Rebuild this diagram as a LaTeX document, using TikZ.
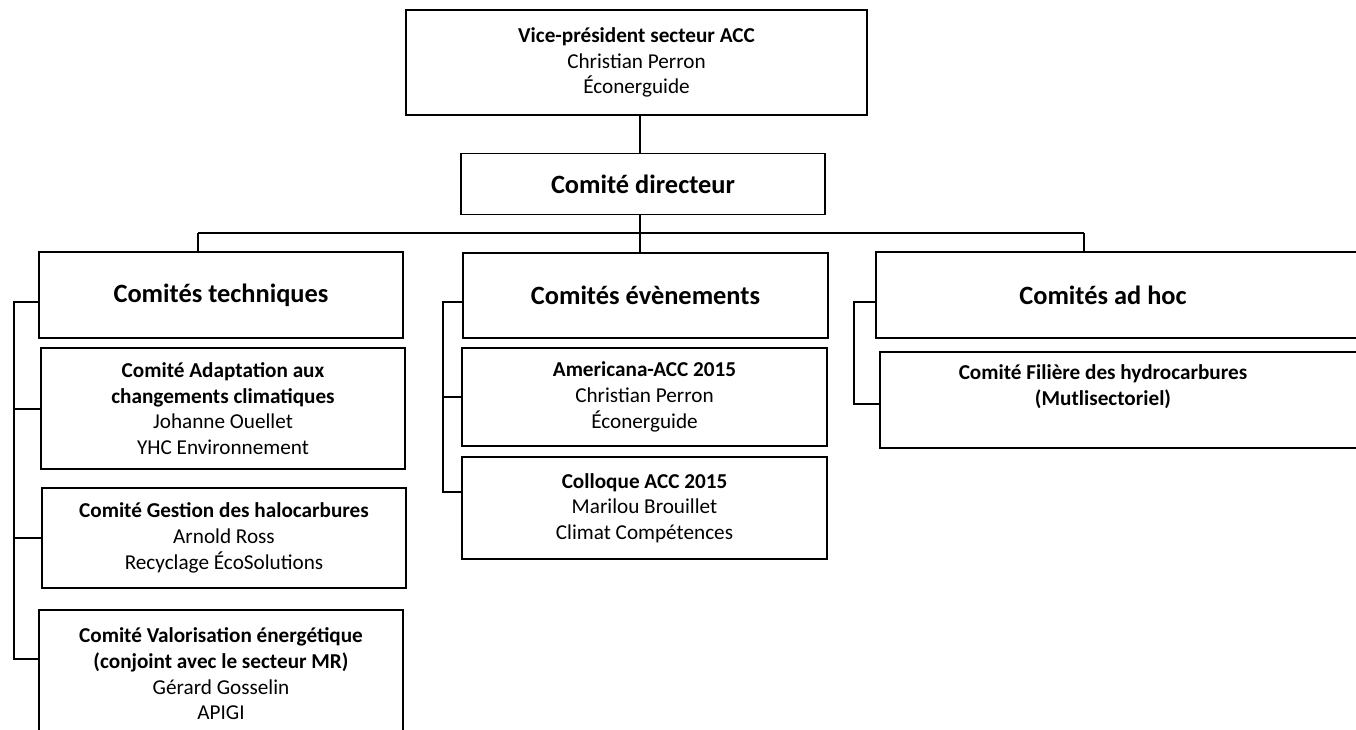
\documentclass[tikz,border=0pt]{standalone}
\usepackage{fontspec}
\setmainfont{Carlito}
\usepackage{tikz}
\usetikzlibrary{arrows.meta}
\newcommand{\boxfont}{\fontsize{15.9}{19.3}\selectfont}
\newcommand{\headfont}{\fontsize{19.8}{24}\selectfont\bfseries}

\begin{document}
\begin{tikzpicture}[x=0.75pt,y=-0.75pt]
\useasboundingbox (0,0) rectangle (1356,729);
\clip (0,0) rectangle (1356,729);
\begin{scope}[every node/.style={draw,line width=1.4pt,align=center,font=\boxfont,inner sep=0pt}]
	\node (vp) at (636.5,62.5) [minimum width=345.75pt,minimum height=78.75pt] {\textbf{Vice-président secteur ACC}\\Christian Perron\\Éconerguide};
    \node (dir) at (643,184) [minimum width=273pt,minimum height=45.75pt,font=\headfont] {Comité directeur};

    % colonne de gauche
    \node (tech) at (221,295) [minimum width=273pt,minimum height=64.5pt,font=\headfont] {Comités techniques};
    \node (adapt) at (223,408.5) [minimum width=273pt,minimum height=90.75pt] {\textbf{Comité Adaptation aux}\\\textbf{changements climatiques}\\Johanne Ouellet\\YHC Environnement};
    \node (gest) at (224,538) [minimum width=273pt,minimum height=75pt] {\textbf{Comité Gestion des halocarbures}\\Arnold Ross\\Recyclage ÉcoSolutions};
    \node (valor) at (221,674) [minimum width=273pt,minimum height=96pt] {\textbf{Comité Valorisation énergétique}\\\textbf{(conjoint avec le secteur MR)}\\Gérard Gosselin\\APIGI};

    % colonne du milieu
    \node (evt) at (645.5,295.5) [minimum width=273.75pt,minimum height=63.75pt,font=\headfont] {Comités évènements};
    \node (amer) at (644.5,397) [minimum width=273.75pt,minimum height=73.5pt] {\textbf{Americana-ACC 2015}\\Christian Perron\\Éconerguide};
    \node (coll) at (644.5,508) [minimum width=273.75pt,minimum height=76.5pt] {\textbf{Colloque ACC 2015}\\Marilou Brouillet\\Climat Compétences};

    % colonne de droite
    \node (adhoc) at (1128,295) [minimum width=378pt,minimum height=64.5pt,font=\headfont] {Comités ad hoc\hspace*{37.5pt}};
    \node (filiere) at (1130,400) [minimum width=375pt,minimum height=72pt] {\begin{tabular}{@{}c@{}}\textbf{Comité Filière des hydrocarbures}\\\textbf{(Mutlisectoriel)}\\\strut\end{tabular}\hspace*{40.5pt}};
\end{scope}

\begin{scope}[line width=1.5pt]
    \coordinate (bus) at (640,233);
    \coordinate (busL) at (198,233);
    \coordinate (busR) at (1084,233);
    \draw (vp.south -| bus) -- (dir.north -| bus);
    \draw (dir.south -| bus) -- (evt.north -| bus);
    \draw (busL) -- (busR);
    \draw (busL) -- (tech.north -| busL);
    \draw (busR) -- (adhoc.north -| busR);

    \coordinate (lt) at (14,302);
    \coordinate (lb) at (14,659);
    \draw (tech.west |- lt) -- (lt) -- (lb) -- (valor.west |- lb);
    \draw (adapt.west) -- (adapt.west -| lt);
    \draw (gest.west) -- (gest.west -| lt);

    \coordinate (mt) at (443,302);
    \coordinate (mb) at (443,492);
    \draw (evt.west |- mt) -- (mt) -- (mb) -- (coll.west |- mb);
    \draw (amer.west) -- (amer.west -| mt);

    \coordinate (rt) at (854,302);
    \coordinate (rb) at (854,404);
    \draw (adhoc.west |- rt) -- (rt) -- (rb) -- (filiere.west |- rb);
\end{scope}
\end{tikzpicture}
\end{document}
